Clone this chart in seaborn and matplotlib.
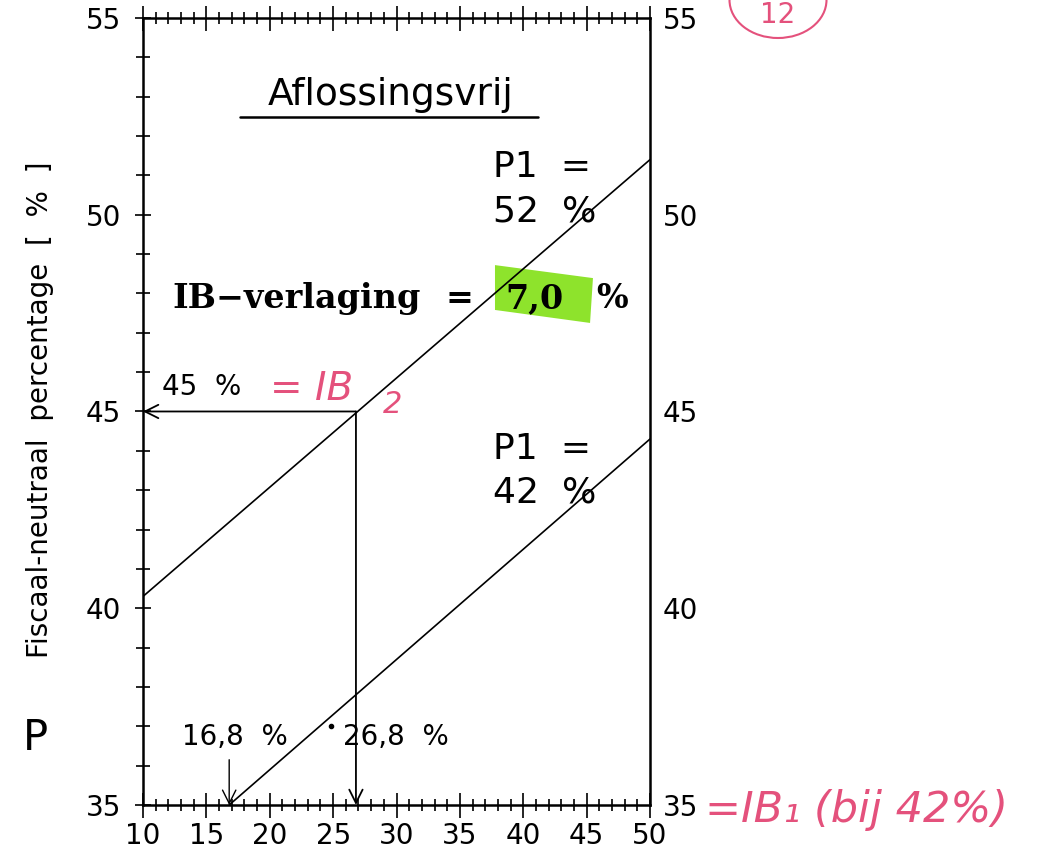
import numpy as np
import pandas as pd
import seaborn as sns
import matplotlib.pyplot as plt
from matplotlib.ticker import MultipleLocator
from matplotlib.patches import Polygon, Ellipse

# Gegevens: twee lijnen (P1 = 52 % en P1 = 42 %)
x_p52 = [10.0, 50.0]
y_p52 = [40.3, 51.4]
x_p42 = [16.8, 50.0]
y_p42 = [35.0, 44.3]

ib_laag = 16.8      # IB1 bij 42 %
ib_hoog = 26.8      # IB2
fn_pct = 45.0       # fiscaal-neutraal percentage
ib_verlaging = '7,0'

x_ticks = [10, 15, 20, 25, 30, 35, 40, 45, 50]
y_ticks = [35, 40, 45, 50, 55]

sns.set_style('white')
plt.rcParams['font.family'] = ['DejaVu Sans']
plt.rcParams['text.color'] = 'black'
plt.rcParams['xtick.color'] = 'black'
plt.rcParams['ytick.color'] = 'black'

fig = plt.figure(figsize=(10.4, 8.56), dpi=100)
ax = fig.add_axes([0.1375, 0.0596, 0.4875, 0.9194])

df52 = pd.DataFrame({'x': x_p52, 'y': y_p52})
df42 = pd.DataFrame({'x': x_p42, 'y': y_p42})
sns.lineplot(data=df52, x='x', y='y', color='black', linewidth=1.2, ax=ax)
sns.lineplot(data=df42, x='x', y='y', color='black', linewidth=1.2, ax=ax)

ax.set_xlim(10, 50)
ax.set_ylim(35, 55)
ax.set_xlabel('')
ax.set_ylabel('')
ax.set_xticks(x_ticks)
ax.set_yticks(y_ticks)
ax.xaxis.set_minor_locator(MultipleLocator(1))
ax.yaxis.set_minor_locator(MultipleLocator(1))
for s in ax.spines.values():
    s.set_linewidth(1.8)
    s.set_color('black')

ax.tick_params(which='both', direction='inout', top=True, right=True,
               bottom=True, left=True, labelsize=20, width=1.2,
               color='black', labelcolor='black')
ax.tick_params(axis='x', which='major', length=18, pad=3)
ax.tick_params(axis='x', which='minor', length=9)
ax.tick_params(axis='y', which='major', length=12, pad=10)
ax.tick_params(axis='y', which='minor', length=10)

# rechter as-labels
ax2 = ax.twinx()
ax2.set_ylim(35, 55)
ax2.set_yticks(y_ticks)
ax2.tick_params(axis='y', length=0, pad=9, labelsize=20, labelcolor='black')
for s in ax2.spines.values():
    s.set_visible(False)
ax2.grid(False)

# pijlen
pijl = dict(arrowstyle='->', color='black', lw=1.3, mutation_scale=24,
            shrinkA=0, shrinkB=0)
ax.annotate('', xy=(10, fn_pct), xytext=(ib_hoog, fn_pct), arrowprops=pijl)
ax.annotate('', xy=(ib_hoog, 35), xytext=(ib_hoog, fn_pct), arrowprops=pijl)
ax.annotate('', xy=(ib_laag, 35), xytext=(ib_laag, 36.15),
            arrowprops=dict(pijl, lw=1.0))
ax.plot([24.83], [37.0], 'o', color='black', markersize=3)

# titel met onderstreping
ax.text(29.5, 52.79, 'Aflossingsvrij', ha='center', va='baseline', fontsize=27)
ax.plot([17.65, 41.2], [52.48, 52.48], color='black', lw=1.8)

# labels van de lijnen
ax.text(37.6, 50.95, 'P1  =', fontsize=26, va='baseline')
ax.text(37.6, 49.82, '52  %', fontsize=26, va='baseline')
ax.text(37.6, 43.8, 'P1  =', fontsize=26, va='baseline')
ax.text(37.6, 42.68, '42  %', fontsize=26, va='baseline')

# IB-verlaging met groene markering
ax.add_patch(Polygon([(37.77, 48.72), (45.5, 48.39), (45.27, 47.25), (37.77, 47.58)],
                     closed=True, facecolor='#8ee32c', edgecolor='none', zorder=0.5))
serif = dict(family='DejaVu Serif', fontweight='bold', fontsize=24, va='baseline')
ax.text(12.3, 47.63, 'IB\u2212verlaging', ha='left', **serif)
ax.text(35.0, 47.63, '=', ha='center', **serif)
ax.text(40.9, 47.63, ib_verlaging, ha='center', **serif)
ax.text(47.0, 47.63, '%', ha='center', **serif)

# waarden bij de pijlen
ax.text(11.5, 45.42, '45  %', fontsize=20, va='baseline')
ax.text(13.1, 36.52, '16,8  %', fontsize=20, va='baseline')
ax.text(25.8, 36.52, '26,8  %', fontsize=20, va='baseline')

# y-as titel
fig.text(40 / 1040, 1 - 410 / 856, 'Fiscaal-neutraal  percentage  [  %  ]',
         rotation=90, ha='center', va='center', fontsize=20)
fig.text(35 / 1040, 1 - 738 / 856, 'P', ha='center', va='center', fontsize=30)

# handgeschreven rode notities
rood = '#e4517c'
ax.text(20.0, 45.3, '= IB', color=rood, fontsize=28, va='baseline', style='italic')
ax.text(28.9, 44.95, '2', color=rood, fontsize=22, va='baseline', style='italic')
fig.text(705 / 1040, 1 - 822 / 856, '=IB\u2081 (bij 42%)', color=rood, fontsize=31,
         va='baseline', style='italic')
fig.patches.append(Ellipse((778 / 1040, 1.0), 97 / 1040, 76 / 856,
                           transform=fig.transFigure, fill=False,
                           edgecolor=rood, lw=1.5))
fig.text(778 / 1040, 1 - 15 / 856, '12', color=rood, fontsize=20,
         ha='center', va='center')

plt.savefig('out.png', dpi=100)
